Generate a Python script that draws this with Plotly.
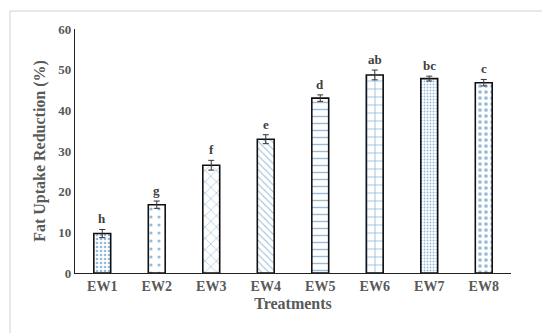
import plotly.graph_objects as go

treatments = ["EW1", "EW2", "EW3", "EW4", "EW5", "EW6", "EW7", "EW8"]
values = [9.7, 16.8, 26.5, 32.9, 43.0, 48.7, 47.8, 46.8]
errors = [1.0, 0.9, 1.2, 1.1, 0.8, 1.2, 0.6, 0.8]
letters = ["h", "g", "f", "e", "d", "ab", "bc", "c"]
y_ticks = [0, 10, 20, 30, 40, 50, 60]

shapes = [".", ".", "x", "\\", "-", "+", ".", "."]
sizes = [4, 8, 8, 5, 7, 8, 3, 6]
solid = [0.35, 0.12, 0.15, 0.2, 0.2, 0.2, 0.3, 0.3]

W, H = 550, 333
L, R, T, B = 67, 47, 21, 68
pw, ph = W - L - R, H - T - B

fig = go.Figure()
fig.add_trace(go.Bar(
    x=treatments, y=values,
    error_y=dict(type="data", array=errors, color="#333333", thickness=1, width=3),
    marker=dict(
        color="white",
        line=dict(color="#111111", width=1.6),
        pattern=dict(shape=shapes, size=sizes, solidity=solid,
                     fgcolor="#2E75B6", bgcolor="white", fillmode="overlay"),
    ),
    width=0.31,
))

annotations = []
for t, v, e, l in zip(treatments, values, errors, letters):
    annotations.append(dict(x=t, y=v + e, text=l, showarrow=False, yanchor="bottom", yshift=1,
                            font=dict(family="Liberation Serif", size=13, color="#404040", weight="bold")))

fig.update_layout(
    width=W, height=H,
    margin=dict(l=L, r=R, t=T, b=B),
    paper_bgcolor="white", plot_bgcolor="white",
    showlegend=False,
    bargap=0.69,
    font=dict(family="Liberation Serif", color="#595959"),
    annotations=annotations,
    xaxis=dict(
        showline=True, linecolor="#222222", linewidth=1.2, ticks="",
        tickfont=dict(size=14, color="#595959", weight="bold"),
        title=dict(text="Treatments", font=dict(size=16, color="#595959", weight="bold"), standoff=4),
    ),
    yaxis=dict(
        range=[0, 60], tickvals=y_ticks, showgrid=False, zeroline=False,
        showline=True, linecolor="#222222", linewidth=1.2, ticks="",
        tickfont=dict(size=13, color="#595959", weight="bold"),
        title=dict(text="Fat Uptake Reduction (%)", font=dict(size=16, color="#595959", weight="bold"), standoff=8),
    ),
    shapes=[dict(type="rect", xref="paper", yref="paper",
                 x0=(2 - L) / pw, x1=(547 - L) / pw,
                 y0=(H - B - 330) / ph, y1=(H - B - 3) / ph,
                 line=dict(color="#D0D0D0", width=1), fillcolor="rgba(0,0,0,0)", layer="below")],
)

fig.write_html("out.html")
